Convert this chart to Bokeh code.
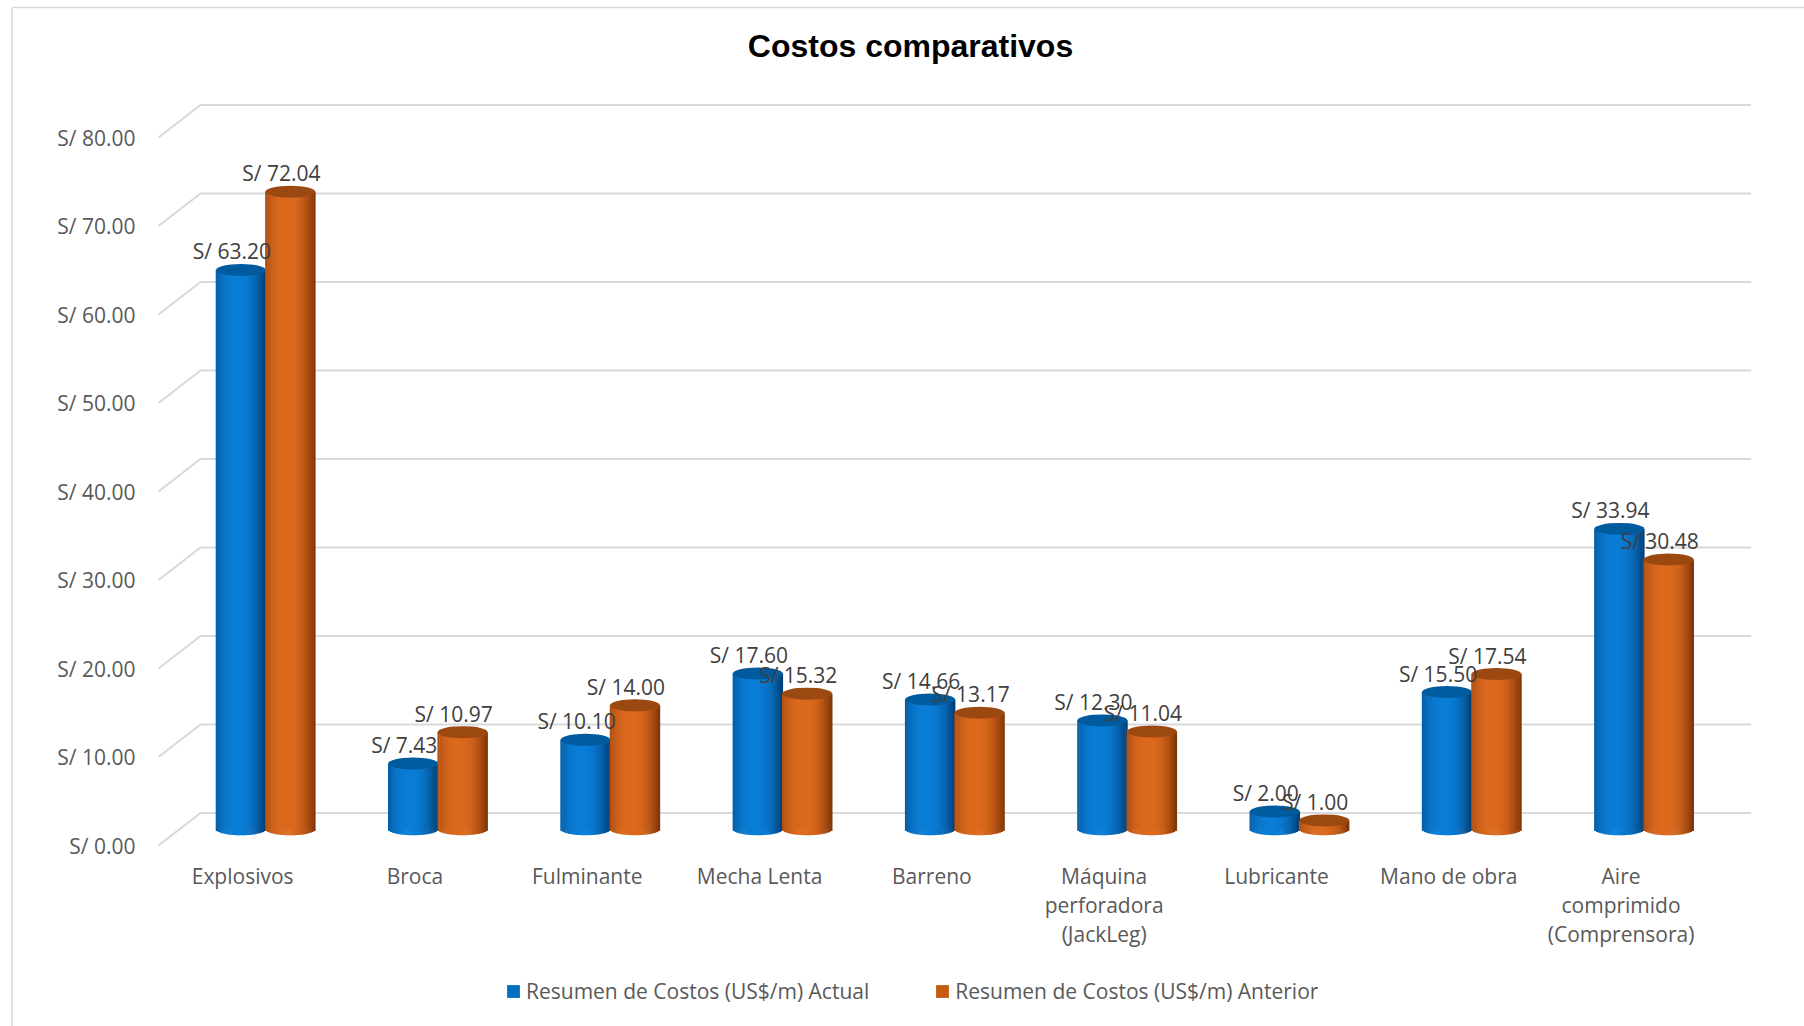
import numpy as np
from bokeh.plotting import figure
from bokeh.models import Range1d, ColumnDataSource, Label, Legend, LegendItem
from bokeh.core.properties import value
from bokeh.embed import file_html
from bokeh.resources import INLINE

# ---- data -------------------------------------------------------------
categories = ["Explosivos", "Broca", "Fulminante", "Mecha Lenta", "Barreno",
              "Máquina\nperforadora\n(JackLeg)", "Lubricante", "Mano de obra",
              "Aire\ncomprimido\n(Comprensora)"]
actual = [63.20, 7.43, 10.10, 17.60, 14.66, 12.30, 2.00, 15.50, 33.94]
anterior = [72.04, 10.97, 14.00, 15.32, 13.17, 11.04, 1.00, 17.54, 30.48]
y_ticks = [0, 10, 20, 30, 40, 50, 60, 70, 80]
series_names = ["Resumen de Costos (US$/m) Actual",
                "Resumen de Costos (US$/m) Anterior"]

# ---- layout (pixels) --------------------------------------------------
W, H = 1804, 1026
FRONT_LEFT = 158.0      # left edge of the front plane
CAT_W = 172.3           # width of one category slot
ZERO_Y = 845.0          # pixel row of value 0 on the front plane
PX_PER_UNIT = 8.85      # pixels per currency unit
DEPTH_DX, DEPTH_DY = 42.0, 32.5   # front -> back wall offset
BAR_W_PX = 50.0
BAR_OFF_PX = 24.7
ELL_H = 12.0            # height of cylinder caps
N_STRIPS = 26

FONT = "Open Sans"
AXIS_COLOR = "#595959"
GRID_COLOR = "#d9d9d9"


def x_of(px):
    return (px - FRONT_LEFT) / CAT_W - 0.5


def y_of(py):
    return (ZERO_Y - py) / PX_PER_UNIT


x0, x1 = x_of(0), x_of(W)
y0, y1 = y_of(H), y_of(0)
sx = DEPTH_DX / 2 / CAT_W
sy = DEPTH_DY / 2 / PX_PER_UNIT

p = figure(width=W, height=H, x_range=Range1d(x0, x1), y_range=Range1d(y0, y1),
           output_backend="svg", toolbar_location=None,
           x_axis_location=None, y_axis_location=None, min_border=0,
           outline_line_color=None, background_fill_color="white",
           border_fill_color="white")
p.grid.visible = False

# mid plane (bars) and back wall (gridlines) share the value scale, shifted in depth
p.extra_x_ranges = {"mid": Range1d(x0 - sx, x1 - sx), "back": Range1d(x0 - 2 * sx, x1 - 2 * sx)}
p.extra_y_ranges = {"mid": Range1d(y0 - sy, y1 - sy), "back": Range1d(y0 - 2 * sy, y1 - 2 * sy)}

# chart border
bx, by = x_of(11.5), y_of(7)
p.segment(x0=[bx, bx], y0=[by, by], x1=[bx, x1], y1=[y0, by],
          line_color=GRID_COLOR, line_width=1.5)

# back-wall gridlines and their diagonal returns to the front
n = len(categories)
p.segment(x0=[-0.5] * len(y_ticks), y0=y_ticks, x1=[n - 0.5] * len(y_ticks), y1=y_ticks,
          x_range_name="back", y_range_name="back", line_color=GRID_COLOR, line_width=2.2)
p.segment(x0=[-0.5] * len(y_ticks), y0=y_ticks,
          x1=[-0.5 + 2 * sx] * len(y_ticks), y1=[t + 2 * sy for t in y_ticks],
          line_color=GRID_COLOR, line_width=2.2)

# value labels on the axis
p.text(x=[x_of(135)] * len(y_ticks), y=y_ticks, text=[f"S/ {t:.2f}" for t in y_ticks],
       text_align="right", text_baseline="middle", text_font=value(FONT),
       text_font_size="21px", text_color=AXIS_COLOR)

# category labels (one text item per line)
lx, ly, lt = [], [], []
for i, name in enumerate(categories):
    for k, line in enumerate(name.split("\n")):
        lx.append(i)
        ly.append(y_of(875.5 + 29 * k))
        lt.append(line)
p.text(x=lx, y=ly, text=lt, x_offset=-2, text_align="center", text_baseline="middle",
       text_font=value(FONT), text_font_size="21px", text_color=AXIS_COLOR)


def mix(c1, c2, t):
    a = np.array([int(c1[i:i + 2], 16) for i in (1, 3, 5)], float)
    b = np.array([int(c2[i:i + 2], 16) for i in (1, 3, 5)], float)
    c = a + (b - a) * t
    return "#%02x%02x%02x" % tuple(int(round(v)) for v in c)


bw = BAR_W_PX / CAT_W
off = BAR_OFF_PX / CAT_W
u = -1 + (2 * np.arange(N_STRIPS) + 1) / N_STRIPS
shade = np.clip(1 - np.abs((u + 0.15) / 1.15) ** 2.4, 0, 1)
curve = np.sqrt(np.clip(1 - u ** 2, 0, 1)) * (ELL_H / 2) / PX_PER_UNIT

series = [
    (actual, -1, "#0070c0", "#003a6e", "#0a7dd6", "#005a9e"),
    (anterior, +1, "#c55a11", "#7a3206", "#dc6a1e", "#9c4811"),
]

legend_items = []
for (vals, sign, base_col, dark, light, cap_col), label in zip(series, series_names):
    xs = [i + sign * off for i in range(n)]
    base = p.vbar(x=xs, top=vals, bottom=0, width=bw * 0.9,
                  x_range_name="mid", y_range_name="mid",
                  fill_color=base_col, line_color=None)
    legend_items.append(LegendItem(label=label, renderers=[base]))

    sxs, tops, bots, cols = [], [], [], []
    for xc, v in zip(xs, vals):
        for k in range(N_STRIPS):
            sxs.append(xc + u[k] * bw / 2)
            tops.append(v)
            bots.append(-curve[k])
            cols.append(mix(dark, light, shade[k]))
    src = ColumnDataSource(dict(x=sxs, top=tops, bottom=bots, color=cols))
    p.vbar(x="x", top="top", bottom="bottom", width=bw / N_STRIPS * 1.25, source=src,
           x_range_name="mid", y_range_name="mid",
           fill_color="color", line_color=None)
    p.ellipse(x=xs, y=vals, width=bw, height=ELL_H, height_units="screen",
              x_range_name="mid", y_range_name="mid",
              fill_color=cap_col, line_color=None)

# data labels
for vals, sign, *_ in series:
    xs = [i + sign * off for i in range(n)]
    p.text(x=xs, y=vals, text=[f"S/ {v:.2f}" for v in vals],
           x_offset=-9, y_offset=-18.5, x_range_name="mid", y_range_name="mid",
           text_align="center", text_baseline="middle", text_font=value(FONT),
           text_font_size="21px", text_color="#404040")

legend = Legend(items=legend_items, orientation="horizontal", location=(505, 21),
                glyph_width=16, glyph_height=16, label_standoff=5, spacing=65,
                padding=0, margin=0, border_line_color=None, background_fill_alpha=0,
                label_text_font=FONT, label_text_font_size="21px",
                label_text_color=AXIS_COLOR, label_height=21)
p.add_layout(legend)

p.add_layout(Label(x=910, y=H - 45, x_units="screen", y_units="screen",
                   text="Costos comparativos", text_align="center", text_baseline="middle",
                   text_font="Liberation Sans", text_font_style="bold",
                   text_font_size="32px", text_color="black"))

open("out.html", "w").write(file_html(p, INLINE))
